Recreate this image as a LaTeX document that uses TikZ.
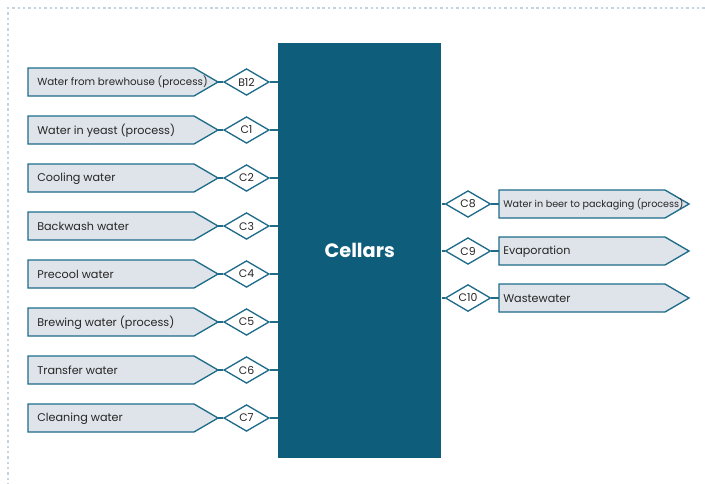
\documentclass[tikz,border=0pt]{standalone}
\usepackage{fontspec}
\setmainfont{Poppins}
\usetikzlibrary{shapes.geometric}
\definecolor{teal}{HTML}{0E5E7B}
\definecolor{edge}{HTML}{1F6B8A}
\definecolor{boxfill}{HTML}{DEE4EA}
\definecolor{dotc}{HTML}{C5D3E0}
\tikzset{
  flowbox/.style={draw=edge, fill=boxfill, line width=1pt},
  flowtext/.style={anchor=west, inner sep=0pt, text=black!85},
  tag/.style={diamond, draw=edge, fill=white, line width=1pt, minimum width=34pt, minimum height=20pt, inner sep=0pt, font=\fontsize{8.2}{9}\selectfont, text=black!85},
  link/.style={draw=edge, line width=1.3pt},
}
\begin{document}
\begin{tikzpicture}[x=0.75pt,y=-0.75pt]
\useasboundingbox (0,0) rectangle (705,483);
% dotted frame
\foreach \i in {0,...,130} {\fill[dotc] (8+\i*5.35-1.2,8-1.2) rectangle ++(2.4,2.4);}
\foreach \i in {1,...,89} {\fill[dotc] (8-1.2,8+\i*5.35-1.2) rectangle ++(2.4,2.4);}
% cellars
\node[fill=teal, minimum width=122.25pt, minimum height=311.25pt, inner sep=0pt, anchor=north west,
      text=white, font=\fontsize{14.5}{16}\bfseries\selectfont] (cel) at (278,43) {Cellars};
% left inputs
\foreach \n/\y/\lab/\t/\fs in {
  a/82/B12/Water from brewhouse (process)/7.7,
  b/130/C1/Water in yeast (process)/8.4,
  c/178/C2/Cooling water/8.4,
  d/226/C3/Backwash water/8.4,
  e/274/C4/Precool water/8.4,
  f/322/C5/Brewing water (process)/8.4,
  g/370/C6/Transfer water/8.4,
  h/418/C7/Cleaning water/8.4} {
  \path[flowbox] (28,\y-14) -- (194,\y-14) -- (218,\y) -- (194,\y+14) -- (28,\y+14) -- cycle;
  \coordinate (tip\n) at (218,\y);
  \node[flowtext, font=\fontsize{\fs}{9}\selectfont] (txt\n) at (37,\y+0.5) {\t};
  \node[tag] (tag\n) at (246.5,\y) {\lab};
  \draw[link] (tip\n) -- (tag\n.west);
  \draw[link] (tag\n.east) -- (cel.west |- tag\n.east);
}
% right outputs
\foreach \n/\y/\lab/\t/\fs in {
  p/204/C8/Water in beer to packaging (process)/7.2,
  q/251/C9/Evaporation/8.4,
  r/298/C10/Wastewater/8.4} {
  \path[flowbox] (499,\y-14) -- (665,\y-14) -- (689,\y) -- (665,\y+14) -- (499,\y+14) -- cycle;
  \coordinate (in\n) at (499,\y);
  \node[flowtext, font=\fontsize{\fs}{9}\selectfont] (txt\n) at (503,\y+0.5) {\t};
  \node[tag] (tag\n) at (468,\y) {\lab};
  \draw[link] (cel.east |- tag\n.west) -- (tag\n.west);
  \draw[link] (tag\n.east) -- (in\n);
}
\end{tikzpicture}
\end{document}
